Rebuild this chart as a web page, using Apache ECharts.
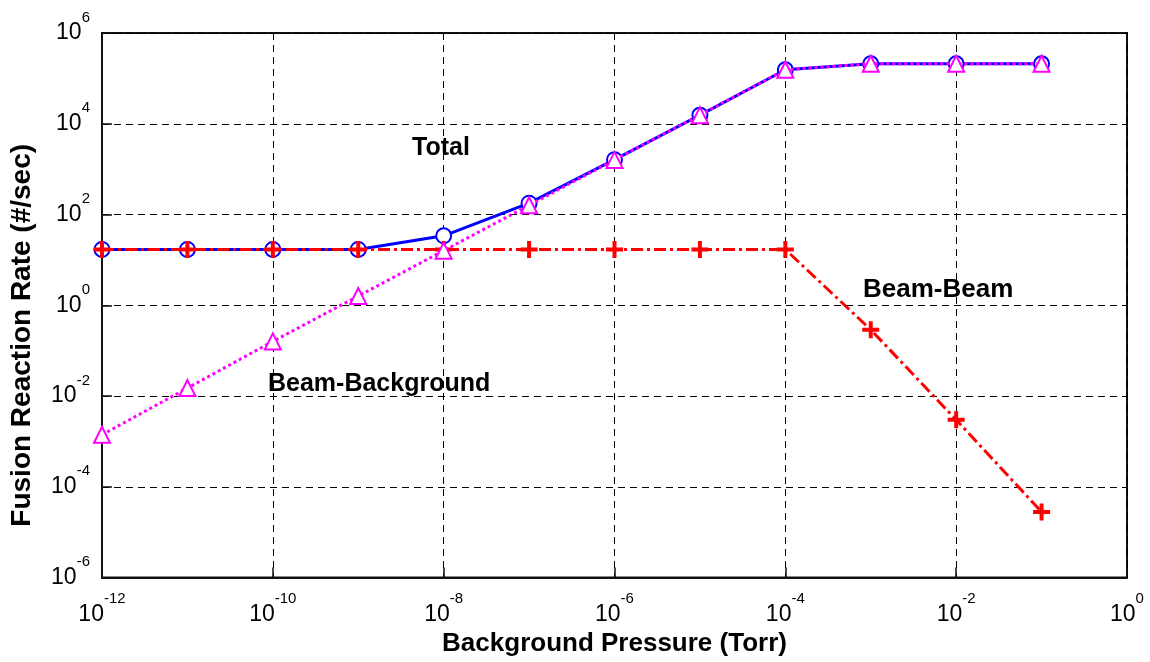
<!DOCTYPE html>
<html>
<head>
<meta charset="utf-8">
<script src="https://cdn.jsdelivr.net/npm/echarts@6/dist/echarts.min.js"></script>
<style>
  html, body { margin: 0; padding: 0; background: #ffffff; }
  #chart { width: 1150px; height: 662px; }
</style>
</head>
<body>
<div id="chart"></div>
<script>
// Background pressure (Torr) at each computed point
const pressure = [1e-12, 1e-11, 1e-10, 1e-9, 1e-8, 1e-7, 1e-6, 1e-5, 1e-4, 1e-3, 1e-2, 1e-1];

// Fusion reaction rates (#/sec)
const totalRate = [17, 17, 17, 17, 34, 178, 1620, 1.55e4, 1.55e5, 2.1e5, 2.1e5, 2.1e5];
const beamBeamRate = [17, 17, 17, 17, 17, 17, 17, 17, 17, 0.29, 0.003, 2.8e-5];
const beamBackgroundRate = [1.4e-3, 1.5e-2, 0.16, 1.6, 16, 160, 1600, 1.55e4, 1.55e5, 2.1e5, 2.1e5, 2.1e5];

// Curve annotations
const curveNames = ['Total', 'Beam-Beam', 'Beam-Background'];

const pairs = (ys) => pressure.map((x, i) => [x, ys[i]]);

// Tick labels written as 10 with a raised exponent
const powerLabel = (v) => '{b|10}{e|' + Math.round(Math.log10(v)) + '}';
const powerRich = {
  b: { fontFamily: 'Liberation Sans, Arial, sans-serif', fontSize: 23, color: '#000', lineHeight: 46 },
  e: { fontFamily: 'Liberation Sans, Arial, sans-serif', fontSize: 15, color: '#000', lineHeight: 18,
       verticalAlign: 'top' }
};

const gridDash = { color: '#000', width: 1, type: [7, 5] };
const boldFont = 'Liberation Sans, Arial, sans-serif';

const plus = 'path://M4.6,0L7.4,0L7.4,4.6L12,4.6L12,7.4L7.4,7.4L7.4,12L4.6,12L4.6,7.4L0,7.4L0,4.6L4.6,4.6Z';

const chart = echarts.init(document.getElementById('chart'), null, { renderer: 'canvas' });

chart.setOption({
  backgroundColor: '#ffffff',
  animation: false,
  grid: {
    left: 100, right: 23, top: 33, bottom: 84,
    show: true, borderColor: '#111', borderWidth: 2, backgroundColor: '#fff'
  },
  xAxis: {
    type: 'log', logBase: 10, min: 1e-12, max: 1, interval: 2,
    name: 'Background Pressure (Torr)',
    nameLocation: 'middle', nameGap: 52,
    nameTextStyle: { fontFamily: boldFont, fontWeight: 'bold', fontSize: 26, color: '#000' },
    axisLine: { show: true, lineStyle: { color: '#111', width: 2 } },
    axisTick: { show: true, inside: true, length: 10, lineStyle: { color: '#111', width: 1.5 } },
    minorTick: { show: false },
    splitLine: { show: true, lineStyle: gridDash },
    axisLabel: { margin: 14, formatter: powerLabel, rich: powerRich, showMinLabel: true, showMaxLabel: true }
  },
  yAxis: {
    type: 'log', logBase: 10, min: 1e-6, max: 1e6, interval: 2,
    name: 'Fusion Reaction Rate (#/sec)',
    nameLocation: 'middle', nameGap: 66, nameRotate: 90,
    nameTextStyle: { fontFamily: boldFont, fontWeight: 'bold', fontSize: 28, color: '#000', padding: [0, 60, 0, 0] },
    axisLine: { show: true, lineStyle: { color: '#111', width: 2 } },
    axisTick: { show: true, inside: true, length: 10, lineStyle: { color: '#111', width: 1.5 } },
    splitLine: { show: true, lineStyle: gridDash },
    axisLabel: { margin: 12, formatter: powerLabel, rich: powerRich, showMinLabel: true, showMaxLabel: true }
  },
  series: [
    {
      name: curveNames[0], type: 'line', data: pairs(totalRate),
      symbol: 'emptyCircle', symbolSize: 15,
      lineStyle: { color: '#0000ff', width: 3, type: 'solid' },
      itemStyle: { color: '#0000ff', borderColor: '#0000ff', borderWidth: 3 },
      z: 2
    },
    {
      name: curveNames[1], type: 'line', data: pairs(beamBeamRate),
      symbol: plus, symbolSize: 17,
      lineStyle: { color: '#ff0000', width: 3, type: [12, 4, 3, 4] },
      itemStyle: { color: '#ff0000', borderWidth: 0 },
      z: 3
    },
    {
      name: curveNames[2], type: 'line', data: pairs(beamBackgroundRate),
      symbol: 'emptyTriangle', symbolSize: 16,
      lineStyle: { color: '#ff00ff', width: 3, type: [3, 3] },
      itemStyle: { color: '#ff00ff', borderColor: '#ff00ff', borderWidth: 3 },
      z: 4
    }
  ],
  graphic: [
    { type: 'text', left: 412, top: 136, z: 10,
      style: { text: curveNames[0], font: 'bold 25px ' + boldFont, fill: '#000' } },
    { type: 'text', left: 863, top: 277, z: 10,
      style: { text: curveNames[1], font: 'bold 26px ' + boldFont, fill: '#000' } },
    { type: 'text', left: 268, top: 372, z: 10,
      style: { text: curveNames[2], font: 'bold 25px ' + boldFont, fill: '#000' } }
  ]
});
</script>
</body>
</html>
